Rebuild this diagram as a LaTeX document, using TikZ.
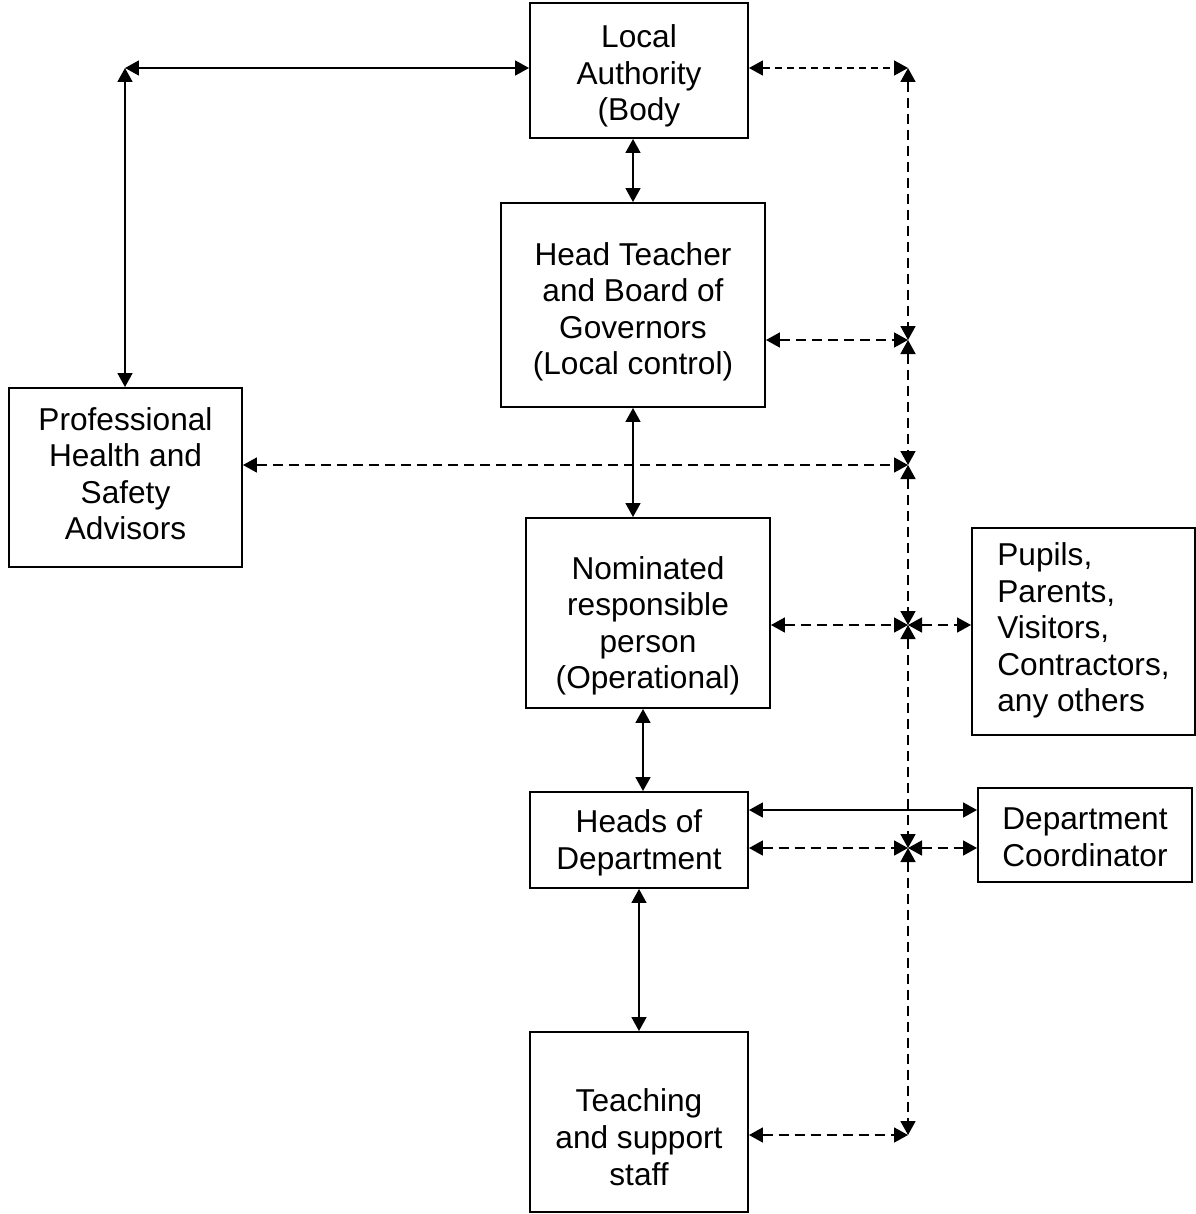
\documentclass[tikz,border=0pt]{standalone}
\usepackage{fontspec}
\setmainfont{Liberation Sans}
\usetikzlibrary{arrows.meta,positioning,calc}

\begin{document}
\begin{tikzpicture}[
    x=0.02cm, y=-0.02cm,
    >={Triangle[length=0.28cm,width=0.3cm]},
    box/.style={rectangle, draw=black, line width=0.04cm, align=center, font=\fontsize{18}{20.8}\selectfont, inner sep=0pt},
    tlift/.style={text height=#1, text depth=0pt},
    link/.style={<->, line width=0.035cm},
    dlink/.style={<->, line width=0.035cm, dash pattern=on 0.2cm off 0.12cm}
]
\useasboundingbox (0,0) rectangle (1196,1214);

% Boxes
\node[box, tlift=2.02cm, minimum width=4.36cm, minimum height=2.7cm] (la) at (639, 70.5) {Local\\Authority\\(Body};
\node[box, tlift=2.8cm, minimum width=5.28cm, minimum height=4.08cm] (ht) at (633, 305) {Head Teacher\\and Board of\\Governors\\(Local control)};
\node[box, tlift=2.5cm, minimum width=4.66cm, minimum height=3.58cm] (phsa) at (125.5, 477.5) {Professional\\Health and\\Safety\\Advisors};
\node[box, tlift=3.04cm, minimum width=4.88cm, minimum height=3.8cm] (nrp) at (648, 613) {Nominated\\responsible\\person\\(Operational)};
\node[box, tlift=3.22cm, align=left, minimum width=4.46cm, minimum height=4.14cm] (pup) at (1083.5, 631.5) {Pupils,\\Parents,\\Visitors,\\Contractors,\\any others};
\node[box, tlift=1.16cm, minimum width=4.36cm, minimum height=1.92cm] (hod) at (639, 840) {Heads of\\Department};
\node[box, tlift=1.24cm, minimum width=4.28cm, minimum height=1.88cm] (dc) at (1085, 835) {Department\\Coordinator};
\node[box, tlift=2.52cm, minimum width=4.36cm, minimum height=3.6cm] (tss) at (639, 1122) {Teaching\\and support\\staff};

% Junction points
\coordinate (c0) at (125, 68);
\coordinate (j1) at (908, 68);
\coordinate (j2) at (908, 340);
\coordinate (j3) at (908, 465);
\coordinate (j4) at (908, 625);
\coordinate (j5) at (908, 848);
\coordinate (j6) at (908, 1135);

% Solid links
\draw[link] (c0) -- (la.west |- c0);
\draw[link] (c0) -- (phsa.north -| c0);
\draw[link] (ht.north |- la.south) -- (ht.north);
\draw[link] (ht.south) -- (ht.south |- nrp.north);
\draw[link] ([xshift=-0.1cm]nrp.south) -- ([xshift=-0.1cm]nrp.south |- hod.north);
\draw[link] (hod.south) -- (tss.north);
\draw[link] ($(hod.east)+(0,-30)$) -- ($(dc.west)+(0,-25)$);

% Dashed vertical spine
\draw[dlink] (j1) -- (j2);
\draw[dlink] (j2) -- (j3);
\draw[dlink] (j3) -- (j4);
\draw[dlink] (j4) -- (j5);
\draw[dlink] (j5) -- (j6);

% Dashed links to spine
\draw[dlink, dash pattern=on 0.14cm off 0.1cm] (la.east |- j1) -- (j1);
\draw[dlink] (ht.east |- j2) -- (j2);
\draw[dlink] (phsa.east |- j3) -- (j3);
\draw[dlink] (nrp.east |- j4) -- (j4);
\draw[dlink] (j4) -- (pup.west |- j4);
\draw[dlink] (hod.east |- j5) -- (j5);
\draw[dlink] (j5) -- (dc.west |- j5);
\draw[dlink] (tss.east |- j6) -- (j6);

\end{tikzpicture}
\end{document}
